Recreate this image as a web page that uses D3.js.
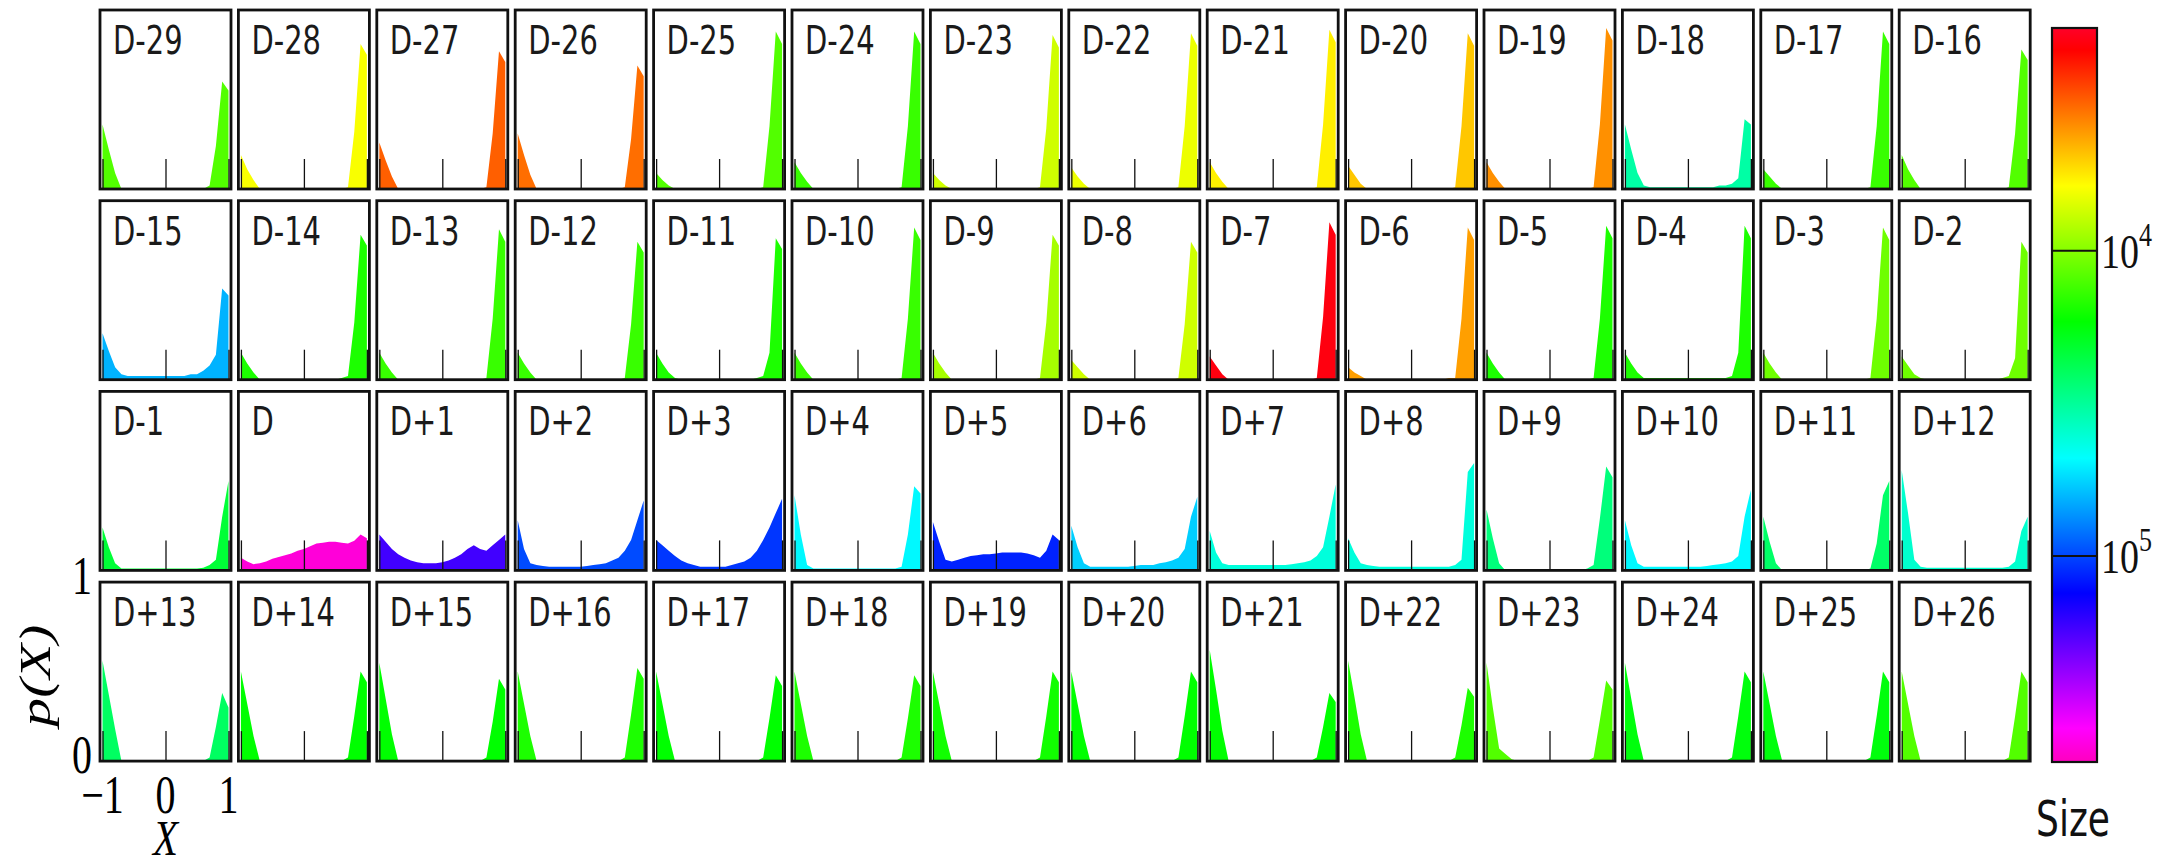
<!DOCTYPE html>
<html>
<head>
  <meta charset="utf-8">
  <script src="https://cdnjs.cloudflare.com/ajax/libs/d3/7.8.5/d3.min.js"></script>
  <style>
    body { margin: 0; background: #fff; }
  </style>
</head>
<body>
<script type="text/javascript">
  "use strict";

  /*
    Data
  */
  var labels = [
    "D-29","D-28","D-27","D-26","D-25","D-24","D-23","D-22","D-21","D-20","D-19","D-18","D-17","D-16",
    "D-15","D-14","D-13","D-12","D-11","D-10","D-9","D-8","D-7","D-6","D-5","D-4","D-3","D-2",
    "D-1","D","D+1","D+2","D+3","D+4","D+5","D+6","D+7","D+8","D+9","D+10","D+11","D+12",
    "D+13","D+14","D+15","D+16","D+17","D+18","D+19","D+20","D+21","D+22","D+23","D+24","D+25","D+26"
  ];

  // group size of each day, drives the fill colour
  var sizes = [
    12300, 6300, 3240, 3430, 12300, 13700, 7460, 6600, 5780, 4920, 3940, 33400, 13700, 12300,
    64900, 15300, 13700, 13700, 15300, 13700, 8810, 7460, 2080, 4190, 15300, 15300, 11000, 11000,
    21400, 428000, 172000, 98400, 107000, 49200, 116000, 58100, 41700, 41700, 28200, 49200, 26000, 39400,
    25300, 17100, 17100, 15300, 17100, 15300, 16000, 17100, 17100, 15300, 12300, 18000, 18000, 12300
  ];

  var xGrid = [-1, -0.9, -0.8, -0.7, -0.6, -0.5, -0.4, -0.3, -0.2, -0.1, 0, 0.1, 0.2, 0.3, 0.4, 0.5, 0.6, 0.7, 0.8, 0.9, 1];

  var density = [
    // row 1
    [.36,.22,.09,0,0,0,0,0,0,0,0,0,0,0,0,0,0,.02,.24,.60,.55],
    [.19,.11,.05,0,0,0,0,0,0,0,0,0,0,0,0,0,0,.01,.32,.81,.75],
    [.26,.16,.07,0,0,0,0,0,0,0,0,0,0,0,0,0,0,.01,.31,.77,.71],
    [.31,.19,.08,0,0,0,0,0,0,0,0,0,0,0,0,0,0,.01,.28,.69,.63],
    [.09,.05,.02,0,0,0,0,0,0,0,0,0,0,0,0,0,0,.01,.35,.88,.81],
    [.15,.09,.04,0,0,0,0,0,0,0,0,0,0,0,0,0,0,.01,.35,.88,.81],
    [.09,.05,.02,0,0,0,0,0,0,0,0,0,0,0,0,0,0,.01,.34,.86,.79],
    [.12,.07,.03,0,0,0,0,0,0,0,0,0,0,0,0,0,0,.01,.35,.87,.80],
    [.15,.09,.04,0,0,0,0,0,0,0,0,0,0,0,0,0,0,.01,.36,.89,.82],
    [.13,.08,.03,0,0,0,0,0,0,0,0,0,0,0,0,0,0,.01,.35,.87,.80],
    [.15,.09,.04,0,0,0,0,0,0,0,0,0,0,0,0,0,0,.01,.36,.90,.83],
    [.36,.22,.09,.02,.01,.01,.01,.01,.01,.01,.01,.01,.01,.01,.01,.02,.02,.03,.06,.39,.36],
    [.11,.07,.03,0,0,0,0,0,0,0,0,0,0,0,0,0,0,.01,.35,.88,.81],
    [.19,.11,.05,0,0,0,0,0,0,0,0,0,0,0,0,0,0,.01,.31,.78,.72],
    // row 2
    [.26,.16,.07,.03,.02,.02,.02,.02,.02,.02,.02,.02,.02,.02,.03,.03,.05,.08,.14,.51,.47],
    [.15,.09,.04,0,0,0,0,0,0,0,0,0,0,0,0,0,.01,.02,.32,.81,.75],
    [.15,.09,.04,0,0,0,0,0,0,0,0,0,0,0,0,0,0,.01,.34,.84,.77],
    [.15,.09,.04,0,0,0,0,0,0,0,0,0,0,0,0,0,0,.01,.31,.77,.71],
    [.15,.09,.04,.01,0,0,0,0,0,0,0,0,0,0,0,0,.01,.02,.15,.79,.73],
    [.15,.09,.04,0,0,0,0,0,0,0,0,0,0,0,0,0,0,.01,.34,.85,.78],
    [.15,.09,.04,0,0,0,0,0,0,0,0,0,0,0,0,0,0,.01,.32,.81,.75],
    [.11,.07,.03,0,0,0,0,0,0,0,0,0,0,0,0,0,0,.01,.31,.77,.71],
    [.13,.08,.03,0,0,0,0,0,0,0,0,0,0,0,0,0,0,.01,.35,.88,.81],
    [.07,.04,.02,0,0,0,0,0,0,0,0,0,0,0,0,0,.01,.01,.34,.85,.78],
    [.15,.09,.04,0,0,0,0,0,0,0,0,0,0,0,0,0,0,.01,.34,.86,.79],
    [.15,.09,.04,.01,.01,.01,.01,.01,.01,.01,.01,.01,.01,.01,.01,.01,.01,.02,.15,.86,.79],
    [.15,.09,.04,0,0,0,0,0,0,0,0,0,0,0,0,0,0,.01,.34,.85,.78],
    [.13,.08,.03,.01,0,0,0,0,0,0,0,0,0,0,0,0,.01,.02,.12,.77,.71],
    // row 3
    [.24,.13,.04,.01,.01,.01,.01,.01,.01,.01,.01,.01,.01,.01,.01,.01,.015,.03,.06,.30,.50],
    [.07,.05,.035,.04,.05,.065,.075,.085,.095,.11,.12,.135,.15,.155,.16,.16,.155,.15,.165,.20,.18],
    [.20,.16,.12,.09,.07,.055,.045,.04,.04,.04,.045,.055,.07,.09,.12,.14,.12,.11,.14,.17,.20],
    [.28,.12,.04,.03,.025,.02,.02,.02,.02,.02,.02,.025,.03,.035,.04,.055,.07,.11,.17,.28,.39],
    [.17,.14,.11,.08,.055,.04,.03,.02,.02,.02,.02,.02,.03,.04,.05,.07,.11,.17,.24,.32,.40],
    [.42,.20,.03,.01,.01,.01,.01,.01,.01,.01,.01,.01,.01,.01,.01,.01,.01,.02,.20,.47,.43],
    [.27,.16,.06,.05,.06,.07,.08,.085,.09,.09,.095,.10,.10,.10,.10,.095,.085,.07,.11,.20,.17],
    [.25,.13,.04,.02,.02,.02,.02,.02,.02,.02,.025,.03,.03,.03,.04,.045,.055,.07,.12,.30,.41],
    [.22,.10,.04,.03,.03,.03,.03,.03,.03,.03,.03,.03,.03,.035,.04,.045,.055,.08,.13,.30,.48],
    [.18,.10,.04,.03,.025,.02,.02,.02,.02,.02,.02,.02,.02,.02,.02,.02,.02,.03,.06,.55,.60],
    [.34,.18,.04,0,0,0,0,0,0,0,0,0,0,0,0,0,.01,.03,.29,.58,.52],
    [.28,.14,.04,.02,.02,.02,.02,.02,.02,.02,.02,.02,.02,.025,.03,.035,.04,.05,.08,.30,.45],
    [.30,.16,.04,0,0,0,0,0,0,0,0,0,0,0,0,0,0,.01,.15,.42,.50],
    [.56,.32,.06,.02,.015,.015,.015,.015,.015,.015,.015,.015,.015,.015,.015,.015,.015,.02,.05,.22,.30],
    // row 4
    [.56,.37,.18,0,0,0,0,0,0,0,0,0,0,0,0,0,0,.02,.19,.38,.30],
    [.50,.32,.14,0,0,0,0,0,0,0,0,0,0,0,0,0,0,.02,.25,.50,.44],
    [.55,.35,.15,0,0,0,0,0,0,0,0,0,0,0,0,0,0,.02,.22,.46,.40],
    [.50,.32,.14,0,0,0,0,0,0,0,0,0,0,0,0,0,0,.02,.26,.52,.46],
    [.50,.32,.14,0,0,0,0,0,0,0,0,0,0,0,0,0,0,.02,.24,.48,.42],
    [.50,.32,.14,0,0,0,0,0,0,0,0,0,0,0,0,0,0,.02,.24,.48,.42],
    [.50,.32,.14,0,0,0,0,0,0,0,0,0,0,0,0,0,0,.02,.25,.50,.44],
    [.50,.32,.14,0,0,0,0,0,0,0,0,0,0,0,0,0,0,.02,.25,.50,.44],
    [.62,.40,.17,0,0,0,0,0,0,0,0,0,0,0,0,0,0,.02,.19,.38,.33],
    [.56,.36,.15,0,0,0,0,0,0,0,0,0,0,0,0,0,0,.02,.20,.41,.36],
    [.55,.30,.07,.04,.01,0,0,0,0,0,0,0,0,0,0,0,0,.02,.23,.45,.40],
    [.55,.35,.15,0,0,0,0,0,0,0,0,0,0,0,0,0,0,.02,.25,.50,.44],
    [.50,.32,.14,0,0,0,0,0,0,0,0,0,0,0,0,0,0,.02,.25,.50,.44],
    [.50,.32,.14,0,0,0,0,0,0,0,0,0,0,0,0,0,0,.02,.25,.50,.44]
  ];

  var xTicks = [-1, 0, 1];
  var xTickLabels = ["\u22121", "0", "1"];
  var yTicks = [0, 1];
  var cbTicks = [1e4, 1e5];
  var cbTickExp = ["4", "5"];

  // matplotlib gist_rainbow
  var cmapStops = [0, 0.03, 0.215, 0.4, 0.586, 0.77, 0.954, 1];
  var cmapColors = ["rgb(255,0,41)", "rgb(255,0,0)", "rgb(255,255,0)", "rgb(0,255,0)",
                    "rgb(0,255,255)", "rgb(0,0,255)", "rgb(255,0,255)", "rgb(255,0,191)"];
  var sizeMin = 1870, sizeMax = 475000;

  /*
    Layout
  */
  var W = 2162, H = 867;
  var nCols = 14,
      panelW = 131, panelH = 179,
      left0 = 100, top0 = 10,
      stepX = 138.4, stepY = 190.7;

  var svg = d3.select("body").append("svg")
      .attr("width", W)
      .attr("height", H);

  svg.append("rect").attr("width", W).attr("height", H).attr("fill", "#fff");

  var x = d3.scaleLinear().domain([-1.04, 1.04]).range([0, panelW]);
  var y = d3.scaleLinear().domain([0, 1]).range([panelH, 0]);

  var rainbow = d3.scaleLinear().domain(cmapStops).range(cmapColors).interpolate(d3.interpolateRgb);
  var sizeNorm = d3.scaleLog().domain([sizeMin, sizeMax]).range([0, 1]).clamp(true);
  function colorOf(s) { return rainbow(sizeNorm(s)); }

  var area = d3.area()
      .x(function(d) { return x(d[0]); })
      .y0(y(0))
      .y1(function(d) { return y(d[1]); });

  /*
    Panels
  */
  var panels = svg.selectAll("g.panel")
      .data(labels)
    .enter().append("g")
      .attr("class", "panel")
      .attr("transform", function(d, i) {
        return "translate(" + (left0 + (i % nCols) * stepX) + "," + (top0 + Math.floor(i / nCols) * stepY) + ")";
      });

  panels.append("rect")
      .attr("width", panelW).attr("height", panelH)
      .attr("fill", "#fff");

  panels.append("path")
      .attr("d", function(d, i) {
        return area(xGrid.map(function(xv, k) { return [xv, density[i][k]]; }));
      })
      .attr("fill", function(d, i) { return colorOf(sizes[i]); })
      .attr("stroke", "none");

  panels.append("g")
      .attr("class", "xtick")
      .attr("transform", "translate(0," + panelH + ")")
      .each(function() {
        d3.select(this).call(d3.axisBottom(x).tickValues(xTicks).tickSize(-30).tickFormat(""));
      });
  svg.selectAll(".xtick .domain").remove();
  svg.selectAll(".xtick line").attr("stroke", "#111").attr("stroke-width", 1.3);

  panels.append("rect")
      .attr("width", panelW).attr("height", panelH)
      .attr("fill", "none")
      .attr("stroke", "#111")
      .attr("stroke-width", 2.8);

  panels.append("text")
      .attr("transform", "translate(13,44) scale(1,1.32)")
      .attr("font-family", "DejaVu Sans")
      .attr("font-size", 29)
      .attr("fill", "#1a1a1a")
      .text(function(d) { return d; });

  /*
    Axis labels on bottom-left panel
  */
  var blX = left0, blY = top0 + 3 * stepY;
  var axG = svg.append("g").attr("transform", "translate(" + blX + "," + blY + ")");

  axG.selectAll("text.ylab")
      .data(yTicks)
    .enter().append("text")
      .attr("class", "ylab")
      .attr("transform", function(d) { return "translate(-8," + (y(d) + 12) + ") scale(1,1.35)"; })
      .attr("text-anchor", "end")
      .attr("font-family", "Liberation Serif")
      .attr("font-size", 40)
      .text(function(d) { return d; });

  axG.selectAll("text.xlab")
      .data(xTicks)
    .enter().append("text")
      .attr("class", "xlab")
      .attr("transform", function(d) { return "translate(" + x(d) + "," + (panelH + 52) + ") scale(1,1.35)"; })
      .attr("text-anchor", "middle")
      .attr("font-family", "Liberation Serif")
      .attr("font-size", 40)
      .text(function(d, i) { return xTickLabels[i]; });

  axG.append("text")
      .attr("transform", "translate(" + x(0) + "," + (panelH + 94) + ") scale(1,1.22)")
      .attr("text-anchor", "middle")
      .attr("font-family", "Liberation Serif")
      .attr("font-style", "italic")
      .attr("font-size", 41)
      .text("X");

  svg.append("text")
      .attr("transform", "translate(50," + (blY + panelH / 2 + 4) + ") scale(1,1.3) rotate(-90)")
      .attr("text-anchor", "middle")
      .attr("font-family", "Liberation Serif")
      .attr("font-style", "italic")
      .attr("font-size", 44)
      .text("p(X)");

  /*
    Colour bar
  */
  var cbX = 2052, cbW = 45, cbTop = 28, cbBottom = 762;
  var cbY = d3.scaleLog().domain([sizeMin, sizeMax]).range([cbTop, cbBottom]);

  var grad = svg.append("defs").append("linearGradient")
      .attr("id", "cbgrad")
      .attr("x1", 0).attr("y1", 0).attr("x2", 0).attr("y2", 1);
  grad.selectAll("stop")
      .data(cmapStops)
    .enter().append("stop")
      .attr("offset", function(d) { return d; })
      .attr("stop-color", function(d, i) { return cmapColors[i]; });

  svg.append("rect")
      .attr("x", cbX).attr("y", cbTop)
      .attr("width", cbW).attr("height", cbBottom - cbTop)
      .attr("fill", "url(#cbgrad)")
      .attr("stroke", "#111")
      .attr("stroke-width", 2.2);

  var cbAxis = svg.append("g")
      .attr("class", "cbaxis")
      .attr("transform", "translate(" + (cbX + cbW) + ",0)")
      .call(d3.axisLeft(cbY).tickValues(cbTicks).tickSize(cbW).tickFormat(""));
  cbAxis.select(".domain").remove();
  cbAxis.selectAll("line").attr("stroke", "#111").attr("stroke-width", 2);

  var cbLab = svg.selectAll("text.cblab")
      .data(cbTicks)
    .enter().append("text")
      .attr("class", "cblab")
      .attr("transform", function(d) { return "translate(" + (cbX + cbW + 4) + "," + (cbY(d) + 18) + ") scale(1,1.3)"; })
      .attr("font-family", "Liberation Serif")
      .attr("font-size", 38)
      .attr("fill", "#111");
  cbLab.append("tspan").text("10");
  cbLab.append("tspan")
      .attr("dy", -17)
      .attr("font-size", 26)
      .text(function(d, i) { return cbTickExp[i]; });

  svg.append("text")
      .attr("transform", "translate(2073,836) scale(1,1.4)")
      .attr("text-anchor", "middle")
      .attr("font-family", "DejaVu Sans")
      .attr("font-size", 36)
      .attr("fill", "#111")
      .text("Size");
</script>
</body>
</html>
